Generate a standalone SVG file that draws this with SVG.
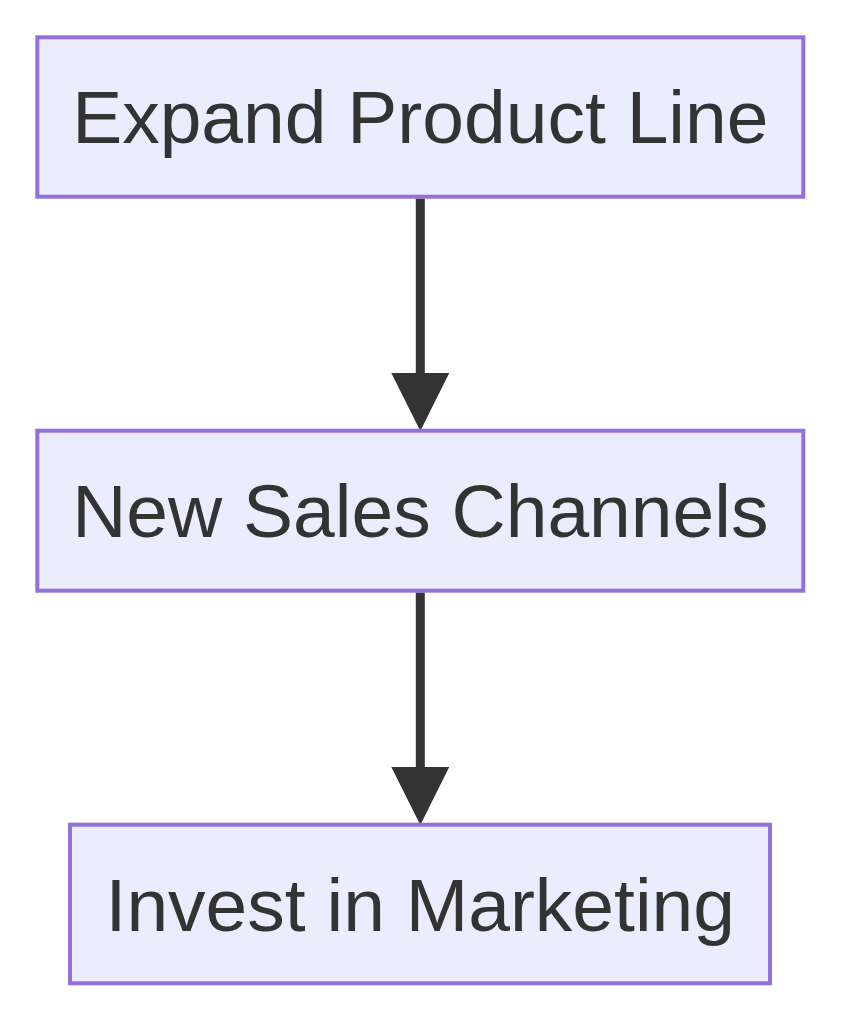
<svg xmlns="http://www.w3.org/2000/svg" width="843" height="1024" viewBox="0 0 843 1024">
<style>
.node rect{fill:#ECECFF;stroke:#9370DB;stroke-width:4}
.node text{font-family:"Liberation Sans",Arial,sans-serif;font-size:75px;fill:#333333;text-anchor:middle}
.edge{stroke:#333333;stroke-width:9;fill:none}
</style>
<defs>
<marker id="arrow" markerUnits="userSpaceOnUse" markerWidth="58" markerHeight="58" refX="0" refY="28" orient="auto" viewBox="0 0 56 56">
<path d="M0,0 L56,28 L0,56 z" fill="#333333"/>
</marker>
</defs>
<g id="connectors">
<path class="edge" d="M420.3,198.5 L420.3,373" marker-end="url(#arrow)"/>
<path class="edge" d="M420.3,592.5 L420.3,767" marker-end="url(#arrow)"/>
</g>
<g id="node1" class="node">
<rect x="37.3" y="37.3" width="766" height="159.4"/>
<text x="420.3" y="143.3">Expand Product Line</text>
</g>
<g id="node2" class="node">
<rect x="37.3" y="430.7" width="766" height="160"/>
<text x="420.3" y="537">New Sales Channels</text>
</g>
<g id="node3" class="node">
<rect x="70" y="824.7" width="700" height="158.6"/>
<text x="420.3" y="930.5">Invest in Marketing</text>
</g>
</svg>
